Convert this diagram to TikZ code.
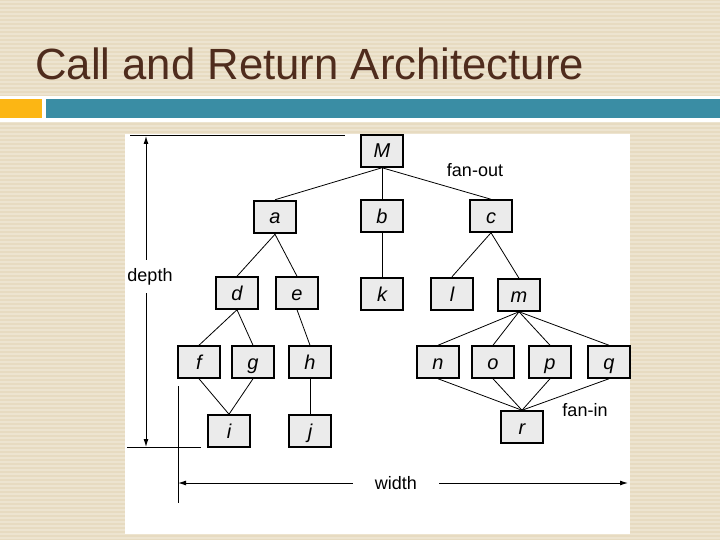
\documentclass[tikz,border=0pt]{standalone}
\usepackage{fontspec}
\setmainfont{Liberation Sans}
\usetikzlibrary{arrows.meta,positioning,calc}
\definecolor{SlideBeige}{HTML}{E7DBC1}
\definecolor{StripeLight}{HTML}{EDE4D0}
\definecolor{TitleBrown}{HTML}{4F2C1D}
\definecolor{BarOrange}{HTML}{FCB614}
\definecolor{BarTeal}{HTML}{3A8DA4}
\definecolor{BoxGray}{HTML}{EBEBEB}

\begin{document}
\begin{tikzpicture}[
  x=1pt,y=-1pt,
  every node/.style={inner sep=0pt},
  box/.style={draw=black,fill=BoxGray,line width=1.5pt,minimum width=42pt,minimum height=32pt,
    text height=16pt,text depth=2pt,font=\fontsize{20}{20}\selectfont\itshape},
  heavy/.style={box,line width=2.5pt},
  link/.style={line width=0.8pt},
  guide/.style={line width=1pt},
  dimarr/.style={line width=1pt,{Latex[length=8pt,width=5pt]}-{Latex[length=8pt,width=5pt]}},
  lbl/.style={font=\fontsize{18}{18}\selectfont,fill=white}
]
\useasboundingbox (0,0) rectangle (720,540);
% slide background
\fill[SlideBeige] (0,0) rectangle (720,540);
\foreach \y in {2,6,...,538}
  \draw[StripeLight,line width=1.5pt] (0,\y) -- (720,\y);
\fill[white] (0,96) rectangle (720,122);
\fill[BarOrange] (0,99) rectangle (42,118);
\fill[BarTeal] (46,99) rectangle (720,118);
\node[anchor=base west,text=TitleBrown,font=\fontsize{43.7}{44}\selectfont] (title) at (35,80) {Call and Return Architecture};
\fill[white] (125,134) rectangle (630,534);

% modules
\node[box] (M) at (382,151) {M};
\node[heavy] (a) at (275,217) {a};
\node[box] (b) at (382,216) {b};
\node[box] (c) at (491,216) {c};
\node[box] (d) at (237,293) {d};
\node[box] (e) at (297,293) {e};
\node[box] (k) at (382,294) {k};
\node[heavy] (l) at (452,294) {l};
\node[box] (m) at (519,295) {m};
\node[box] (f) at (199,362) {f};
\node[box] (g) at (253,362) {g};
\node[box] (h) at (310,362) {h};
\node[box] (n) at (438,362) {n};
\node[box] (o) at (493,362) {o};
\node[box] (p) at (550,362) {p};
\node[box] (q) at (609,362) {q};
\node[box] (i) at (229,431) {i};
\node[box] (j) at (310,431) {j};
\node[box] (r) at (522,427) {r};

% calls
\foreach \x in {a,b,c} \draw[link] (M.south) -- (\x.north);
\foreach \x in {d,e} \draw[link] (a.south) -- (\x.north);
\draw[link] (b.south) -- (k.north);
\foreach \x in {l,m} \draw[link] (c.south) -- (\x.north);
\foreach \x in {f,g} \draw[link] (d.south) -- (\x.north);
\draw[link] (e.south) -- (h.north);
\foreach \x in {f,g} \draw[link] (\x.south) -- (i.north);
\draw[link] (h.south) -- (j.north);
\foreach \x in {n,o,p,q} \draw[link] (m.south) -- (\x.north);
\foreach \x in {n,o,p,q} \draw[link] (\x.south) -- (r.north);

\node[font=\fontsize{18}{18}\selectfont] (fanout) at (475,170) {fan-out};
\node[font=\fontsize{18}{18}\selectfont] (fanin) at (585,410) {fan-in};

% depth and width
\coordinate (gtl) at (130,136);
\coordinate (gtr) at (345,136);
\coordinate (gbl) at (127,447);
\coordinate (gbr) at (201,447);
\coordinate (gwt) at (178,386);
\coordinate (gwb) at (178,503);
\draw[guide] (gtl) -- (gtr);
\draw[guide] (gbl) -- (gbr);
\draw[guide] (gwt) -- (gwb);
\coordinate (dtop) at (146,136);
\coordinate (dbot) at (146,447);
\draw[dimarr] (dtop) -- (dbot)
  node[lbl,pos=0.453,xshift=4pt,inner xsep=1pt,inner ysep=8pt] (depth) {depth};
\coordinate (wl) at (178,483);
\coordinate (wr) at (628,483);
\draw[dimarr] (wl) -- (wr)
  node[lbl,pos=0.484,inner xsep=22pt,inner ysep=2pt] (width) {width};
\end{tikzpicture}
\end{document}
